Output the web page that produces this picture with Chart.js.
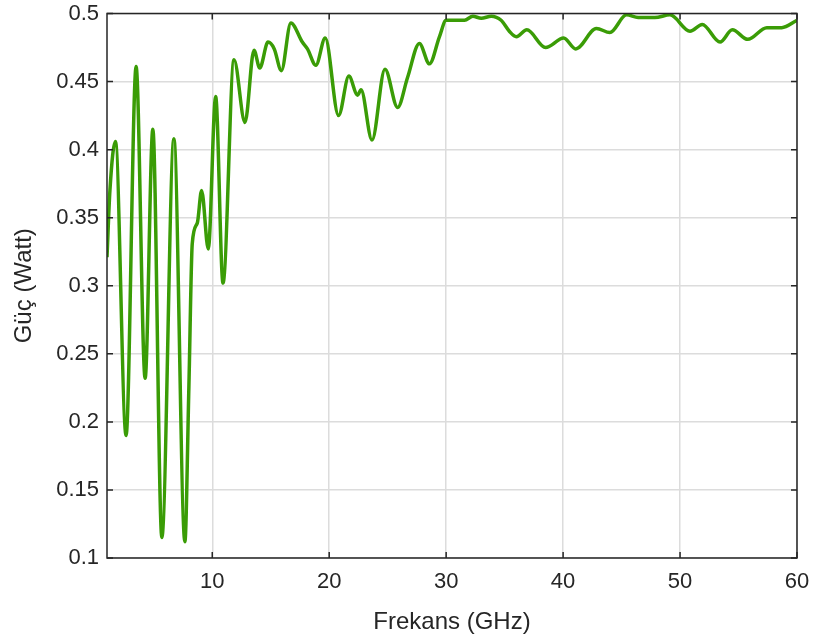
<!DOCTYPE html>
<html>
<head>
<meta charset="utf-8">
<script src="https://cdn.jsdelivr.net/npm/chart.js@4/dist/chart.umd.min.js"></script>
<style>
    html, body { margin: 0; padding: 0; background: #ffffff; }
    #wrap { width: 815px; height: 641px; }
</style>
</head>
<body>
<div id="wrap"><canvas id="powerChart" width="815" height="641"></canvas></div>
<script>
// Data
const freq = [1.0, 1.25, 1.72, 2.63, 3.49, 4.26, 4.92, 5.69, 6.72, 7.66, 8.0, 8.29, 8.72, 9.09, 9.66,
    10.29, 10.92, 11.86, 12.8, 13.57, 14.06, 14.77, 15.3, 15.91, 16.72, 17.7, 18.14, 18.86, 19.66,
    20.8, 21.68, 22.43, 22.72, 23.66, 24.77, 25.85, 26.7, 27.71, 28.57, 29.43, 30.0, 30.8, 31.57,
    32.28, 33.0, 33.86, 34.7, 35.4, 36.0, 36.9, 38.5, 40.05, 41.08, 42.85, 44.0, 45.42, 46.42,
    47.85, 49.14, 50.85, 51.9, 53.42, 54.47, 55.79, 57.42, 58.7, 60];
const power = [0.321, 0.37, 0.406, 0.19, 0.461, 0.232, 0.415, 0.115, 0.408, 0.112, 0.225, 0.331, 0.346, 0.370, 0.327,
    0.439, 0.302, 0.466, 0.420, 0.473, 0.460, 0.479, 0.474, 0.458, 0.493, 0.479, 0.474, 0.462, 0.482,
    0.425, 0.454, 0.440, 0.444, 0.407, 0.459, 0.431, 0.453, 0.478, 0.463, 0.483, 0.495, 0.495, 0.495,
    0.498, 0.4965, 0.498, 0.495, 0.487, 0.483, 0.488, 0.475, 0.482, 0.474, 0.489, 0.486, 0.499, 0.497,
    0.497, 0.499, 0.487, 0.492, 0.479, 0.488, 0.481, 0.4896, 0.4896, 0.495];
const xTicks = [10, 20, 30, 40, 50, 60];
const yTicks = [0.1, 0.15, 0.2, 0.25, 0.3, 0.35, 0.4, 0.45, 0.5];
const yTickLabels = ['0.1', '0.15', '0.2', '0.25', '0.3', '0.35', '0.4', '0.45', '0.5'];

const textColor = '#262626';
const fontFamily = '"Liberation Sans", Arial, sans-serif';

// MATLAB style box with inward ticks on all sides
const boxPlugin = {
    id: 'box',
    afterDraw(chart) {
        const { ctx, chartArea: a, scales: { x, y } } = chart;
        const len = 6;
        ctx.save();
        ctx.strokeStyle = textColor;
        ctx.lineWidth = 1.5;
        ctx.strokeRect(a.left, a.top, a.right - a.left, a.bottom - a.top);
        ctx.beginPath();
        xTicks.forEach(v => {
            const px = x.getPixelForValue(v);
            ctx.moveTo(px, a.bottom); ctx.lineTo(px, a.bottom - len);
            ctx.moveTo(px, a.top); ctx.lineTo(px, a.top + len);
        });
        yTicks.forEach(v => {
            const py = y.getPixelForValue(v);
            ctx.moveTo(a.left, py); ctx.lineTo(a.left + len, py);
            ctx.moveTo(a.right, py); ctx.lineTo(a.right - len, py);
        });
        ctx.stroke();
        ctx.restore();
    }
};

const ctx = document.getElementById('powerChart').getContext('2d');
new Chart(ctx, {
    type: 'line',
    data: {
        datasets: [{
            data: freq.map((f, i) => ({ x: f, y: power[i] })),
            borderColor: '#3a9c06',
            borderWidth: 3.5,
            pointRadius: 0,
            fill: false,
            cubicInterpolationMode: 'monotone'
        }]
    },
    options: {
        responsive: false,
        animation: false,
        layout: { padding: { left: 0, right: 18, top: 13.5, bottom: 0 } },
        plugins: {
            legend: { display: false },
            tooltip: { enabled: false }
        },
        scales: {
            x: {
                type: 'linear',
                min: 1,
                max: 60,
                afterBuildTicks: scale => { scale.ticks = xTicks.map(v => ({ value: v })); },
                afterFit: scale => {
                    scale.height = 83;
                    scale.paddingLeft = 0;
                    scale.paddingRight = 0;
                },
                grid: { color: '#dcdcdc', lineWidth: 1.5, drawTicks: false },
                border: { display: false },
                ticks: {
                    padding: 11,
                    maxRotation: 0,
                    color: textColor,
                    font: { family: fontFamily, size: 22 },
                    callback: v => String(v)
                },
                title: {
                    display: true,
                    text: 'Frekans (GHz)',
                    color: textColor,
                    font: { family: fontFamily, size: 24 },
                    padding: { top: 0, bottom: 4 }
                }
            },
            y: {
                min: 0.1,
                max: 0.5,
                afterBuildTicks: scale => { scale.ticks = yTicks.map(v => ({ value: v })); },
                afterFit: scale => {
                    scale.width = 107;
                    scale.paddingTop = 0;
                    scale.paddingBottom = 0;
                },
                grid: { color: '#dcdcdc', lineWidth: 1.5, drawTicks: false },
                border: { display: false },
                ticks: {
                    padding: 8,
                    color: textColor,
                    font: { family: fontFamily, size: 22 },
                    callback: v => yTickLabels[yTicks.indexOf(v)] ?? ''
                },
                title: {
                    display: true,
                    text: 'Güç (Watt)',
                    color: textColor,
                    font: { family: fontFamily, size: 24 },
                    padding: { top: 10, bottom: 0 }
                }
            }
        }
    },
    plugins: [boxPlugin]
});
</script>
</body>
</html>
